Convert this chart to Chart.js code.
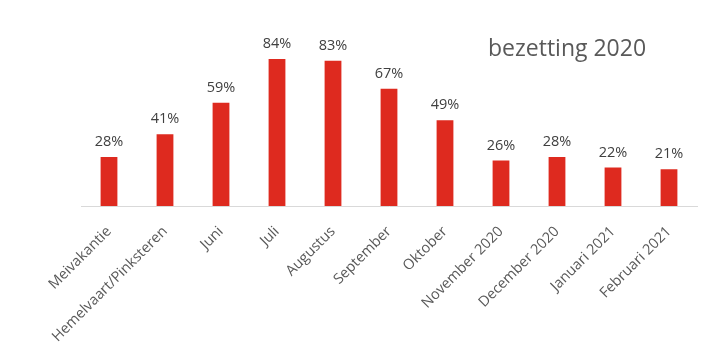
<!DOCTYPE html>
<html>
<head>
<meta charset="utf-8">
<script src="https://cdn.jsdelivr.net/npm/chart.js@4/dist/chart.umd.min.js"></script>
<style>
html,body{margin:0;padding:0;background:#fff;}
#wrap{width:711px;height:358px;position:relative;}
</style>
</head>
<body>
<div id="wrap"><canvas id="c" width="711" height="358"></canvas></div>
<script>
const categories = ["Meivakantie","Hemelvaart/Pinksteren","Juni","Juli","Augustus","September","Oktober","November 2020","December 2020","Januari 2021","Februari 2021"];
const occupancy = [28, 41, 59, 84, 83, 67, 49, 26, 28, 22, 21];
const chartTitle = "bezetting 2020";

const FONT = "'Open Sans', sans-serif";

const labelPlugin = {
  id: 'barLabels',
  afterDatasetsDraw(chart) {
    const ctx = chart.ctx;
    const meta = chart.getDatasetMeta(0);
    ctx.save();
    ctx.fillStyle = '#404040';
    ctx.font = '14.5px ' + FONT;
    ctx.textAlign = 'center';
    ctx.textBaseline = 'alphabetic';
    meta.data.forEach((bar, i) => {
      ctx.fillText(occupancy[i] + '%', bar.x, bar.y - 11);
    });
    ctx.restore();
  }
};

const titlePlugin = {
  id: 'cornerTitle',
  afterDraw(chart) {
    const ctx = chart.ctx;
    ctx.save();
    ctx.fillStyle = '#595959';
    ctx.font = '23px ' + FONT;
    ctx.textAlign = 'left';
    ctx.textBaseline = 'alphabetic';
    ctx.fillText(chartTitle, 488, 56);
    ctx.restore();
  }
};

new Chart(document.getElementById('c'), {
  type: 'bar',
  data: {
    labels: categories,
    datasets: [{
      data: occupancy,
      backgroundColor: '#DE2A1F',
      borderWidth: 0,
      categoryPercentage: 1.0,
      barPercentage: 0.3
    }]
  },
  options: {
    responsive: false,
    animation: false,
    layout: { padding: { left: 81, right: 14, top: 31, bottom: 0 } },
    plugins: { legend: { display: false }, tooltip: { enabled: false }, title: { display: false } },
    scales: {
      x: {
        grid: { display: false },
        border: { display: true, color: '#d9d9d9', width: 1 },
        ticks: {
          minRotation: 45, maxRotation: 45, autoSkip: false,
          color: '#595959', font: { family: FONT, size: 14.5 }, padding: 9
        },
        afterFit(scale) { scale.height = 152; }
      },
      y: { display: false, min: 0, max: 100 }
    }
  },
  plugins: [labelPlugin, titlePlugin]
});
</script>
</body>
</html>
